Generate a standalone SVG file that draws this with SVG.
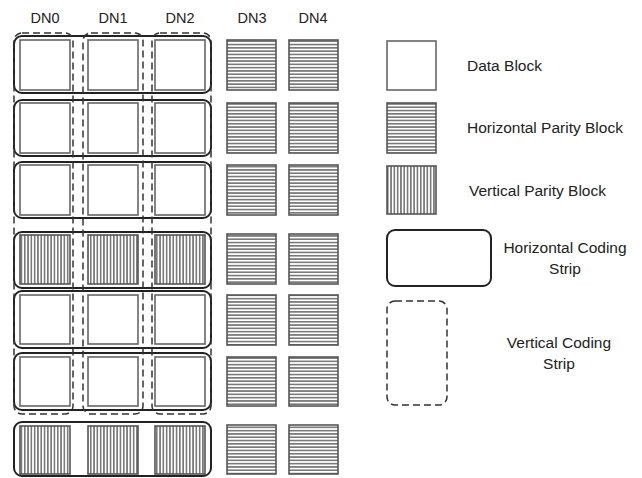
<svg xmlns="http://www.w3.org/2000/svg" width="642" height="478" viewBox="0 0 642 478">
<style>
text{font-family:"Liberation Sans",Arial,sans-serif;font-size:15.5px;fill:#222}
.hd{font-size:14.5px}
.blk{stroke:#666;stroke-width:1.6;fill:#fff}
.hp{stroke:#555;stroke-width:1.6;fill:url(#hpat)}
.vp{stroke:#555;stroke-width:1.6;fill:url(#vpat)}
.hs{fill:none;stroke:#222;stroke-width:2}
.vs{fill:none;stroke:#333;stroke-width:1.5;stroke-dasharray:7,4}
</style>
<defs>
<pattern id="hpat" width="10" height="3.3" patternUnits="userSpaceOnUse">
<rect width="10" height="3.3" fill="#fff"/><line x1="0" y1="1.65" x2="10" y2="1.65" stroke="#222" stroke-width="1"/>
</pattern>
<pattern id="vpat" width="3.3" height="10" patternUnits="userSpaceOnUse">
<rect width="3.3" height="10" fill="#fff"/><line x1="1.65" y1="0" x2="1.65" y2="10" stroke="#222" stroke-width="1"/>
</pattern>
</defs>
<g id="headers" text-anchor="middle">
<text class="hd" x="45" y="23">DN0</text><text class="hd" x="113" y="23">DN1</text><text class="hd" x="180" y="23">DN2</text><text class="hd" x="252" y="23">DN3</text><text class="hd" x="313" y="23">DN4</text>
</g>
<g id="blocks">
<rect class="blk" x="20" y="40" width="50" height="50"/><rect class="blk" x="88" y="40" width="50" height="50"/><rect class="blk" x="155" y="40" width="50" height="50"/>
<rect class="hp" x="227" y="40" width="49" height="50"/><rect class="hp" x="289" y="40" width="49" height="50"/>
<rect class="blk" x="20" y="103" width="50" height="50"/><rect class="blk" x="88" y="103" width="50" height="50"/><rect class="blk" x="155" y="103" width="50" height="50"/>
<rect class="hp" x="227" y="103" width="49" height="50"/><rect class="hp" x="289" y="103" width="49" height="50"/>
<rect class="blk" x="20" y="165" width="50" height="50"/><rect class="blk" x="88" y="165" width="50" height="50"/><rect class="blk" x="155" y="165" width="50" height="50"/>
<rect class="hp" x="227" y="165" width="49" height="50"/><rect class="hp" x="289" y="165" width="49" height="50"/>
<rect class="vp" x="20" y="235" width="50" height="49"/><rect class="vp" x="88" y="235" width="50" height="49"/><rect class="vp" x="155" y="235" width="50" height="49"/>
<rect class="hp" x="227" y="234" width="49" height="50"/><rect class="hp" x="289" y="234" width="49" height="50"/>
<rect class="blk" x="20" y="295" width="50" height="49"/><rect class="blk" x="88" y="295" width="50" height="49"/><rect class="blk" x="155" y="295" width="50" height="49"/>
<rect class="hp" x="227" y="295" width="49" height="50"/><rect class="hp" x="289" y="295" width="49" height="50"/>
<rect class="blk" x="20" y="357" width="50" height="49"/><rect class="blk" x="88" y="357" width="50" height="49"/><rect class="blk" x="155" y="357" width="50" height="49"/>
<rect class="hp" x="227" y="357" width="49" height="49"/><rect class="hp" x="289" y="357" width="49" height="49"/>
<rect class="vp" x="20" y="426" width="50" height="48"/><rect class="vp" x="88" y="426" width="50" height="48"/><rect class="vp" x="155" y="426" width="50" height="48"/>
<rect class="hp" x="227" y="425" width="49" height="49"/><rect class="hp" x="289" y="425" width="49" height="49"/>
</g>
<g id="hstrips">
<rect class="hs" x="14" y="36" width="197" height="57" rx="8"/>
<rect class="hs" x="14" y="100" width="197" height="56" rx="8"/>
<rect class="hs" x="14" y="162" width="197" height="56" rx="8"/>
<rect class="hs" x="14" y="232" width="197" height="56" rx="8"/>
<rect class="hs" x="14" y="291" width="197" height="57" rx="8"/>
<rect class="hs" x="14" y="353" width="197" height="57" rx="8"/>
<rect class="hs" x="14" y="422" width="197" height="54" rx="8"/>
</g>
<g id="vstrips">
<rect class="vs" x="14" y="33" width="59" height="381" rx="8"/>
<rect class="vs" x="83" y="33" width="60" height="381" rx="8"/>
<rect class="vs" x="152" y="33" width="59" height="381" rx="8"/>
</g>
<g id="legend">
<rect class="blk" x="387" y="41" width="49" height="49"/>
<rect class="hp" x="387" y="103" width="49" height="50"/>
<rect class="vp" x="387" y="166" width="49" height="48"/>
<rect class="hs" x="387" y="230" width="104" height="56" rx="8"/>
<rect class="vs" x="387" y="301" width="60" height="104" rx="8"/>
<text x="467" y="71">Data Block</text>
<text x="467" y="133">Horizontal Parity Block</text>
<text x="469" y="196">Vertical Parity Block</text>
<text x="565" y="253" text-anchor="middle">Horizontal Coding</text>
<text x="565" y="274" text-anchor="middle">Strip</text>
<text x="559" y="348" text-anchor="middle">Vertical Coding</text>
<text x="559" y="369" text-anchor="middle">Strip</text>
</g>
</svg>
